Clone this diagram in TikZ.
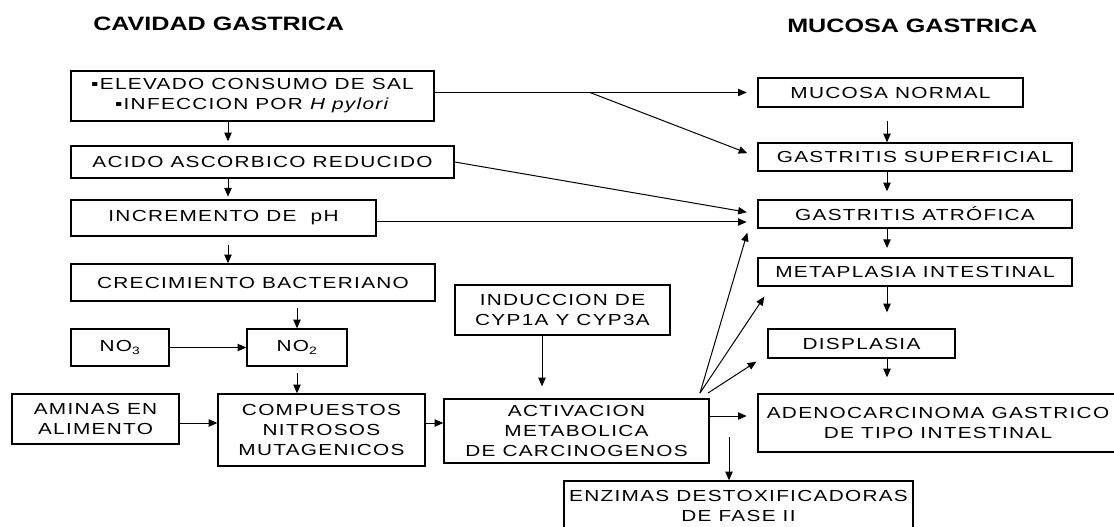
\documentclass[tikz,border=0pt]{standalone}
\usepackage{fontspec}
\setmainfont{Liberation Sans}[FakeStretch=1.3,LetterSpace=8]
\usetikzlibrary{arrows.meta}
\tikzstyle{box}=[draw, line width=1pt, align=center, inner sep=0pt, font=\fontsize{12}{15}\selectfont]
\tikzstyle{title}=[anchor=west, inner sep=0pt, font=\fontsize{14.5}{17}\selectfont\bfseries\addfontfeature{LetterSpace=0}]
\tikzstyle{arrow}=[draw=black, line width=0.75pt, -{Triangle[length=6.5pt,width=5.5pt]}]
\begin{document}
\begin{tikzpicture}[x=0.75pt, y=-0.75pt]
	\useasboundingbox (0,0) rectangle (1114,527);
	\begin{scope}
		% titulos
		\node (tcav) at (93, 24)[title] {CAVIDAD GASTRICA};
		\node (tmuc) at (787, 26)[title] {MUCOSA GASTRICA};
		% cavidad gastrica
		\node (sal) at (252.5, 96)[box, minimum width=272.25pt, minimum height=37.5pt] {
			▪ELEVADO CONSUMO DE SAL\\ ▪INFECCION POR \textit{H pylori}
		};
		\node (acido) at (262.5, 162)[box, minimum width=287.25pt, minimum height=24pt] {ACIDO ASCORBICO REDUCIDO};
		\node (ph) at (223.5, 218)[box, minimum width=228.75pt, minimum height=27pt] {INCREMENTO DE\ \ pH};
		\node (crec) at (253, 282.5)[box, minimum width=273pt, minimum height=27.75pt] {CRECIMIENTO BACTERIANO};
		\node (no3) at (120, 347.5)[box, minimum width=73.5pt, minimum height=27.75pt] {NO\textsubscript{3}};
		\node (no2) at (297, 347.5)[box, minimum width=75pt, minimum height=27.75pt] {NO\textsubscript{2}};
		\node (aminas) at (95.5, 419)[box, minimum width=125.25pt, minimum height=37.5pt] {AMINAS EN\\ ALIMENTO};
		\node (comp) at (321.5, 430)[box, minimum width=155.25pt, minimum height=54pt] {COMPUESTOS\\ NITROSOS\\ MUTAGENICOS};
		\node (induc) at (562.5, 310)[box, minimum width=161.25pt, minimum height=37.5pt] {INDUCCION DE\\ CYP1A Y CYP3A};
		\node (activ) at (576.5, 431)[box, minimum width=198.75pt, minimum height=48pt] {ACTIVACION\\ METABOLICA\\ DE CARCINOGENOS};
		\node (enz) at (738.5, 506)[box, minimum width=261.75pt, minimum height=37.5pt] {ENZIMAS DESTOXIFICADORAS\\ DE FASE II};
		% mucosa gastrica
		\node (mucn) at (890.5, 92.5)[box, minimum width=198.75pt, minimum height=21.75pt] {MUCOSA NORMAL};
		\node (gsup) at (915, 157)[box, minimum width=235.5pt, minimum height=21pt] {GASTRITIS SUPERFICIAL};
		\node (gatr) at (915, 214)[box, minimum width=235.5pt, minimum height=21pt] {GASTRITIS ATRÓFICA};
		\node (meta) at (915, 272)[box, minimum width=235.5pt, minimum height=21pt] {METAPLASIA INTESTINAL};
		\node (disp) at (861.5, 343.5)[box, minimum width=140.25pt, minimum height=21.75pt] {DISPLASIA};
		\node (aden) at (938, 423)[box, minimum width=270pt, minimum height=43.5pt] {ADENOCARCINOMA GASTRICO\\ DE TIPO INTESTINAL};
		% puntos auxiliares
		\coordinate (lc) at (228, 0);
		\coordinate (rc) at (887, 0);
		\coordinate (br) at (590, 92.5);
		\coordinate (py) at (0, 222);
		\coordinate (ay) at (0, 423);
		\coordinate (dy) at (0, 416);
		\coordinate (ix) at (542, 0);
		\coordinate (enzin) at (729, 437);
		\coordinate (fan) at (700, 393);
		\coordinate (fanb) at (708, 393);
	\end{scope}
	\begin{scope}
		\draw [arrow, shorten >=3pt] (sal.south -| lc) -- (acido.north -| lc);
		\draw [arrow, shorten >=2pt] (acido.south -| lc) -- (ph.north -| lc);
		\draw [arrow, shorten <=6pt] (ph.south -| lc) -- (crec.north -| lc);
		\draw [arrow, shorten <=5pt] (crec.south -| no2) -- (no2.north);
		\draw [arrow, shorten <=5pt] (no2.south) -- (comp.north -| no2);
		\draw [arrow] (no3) -- (no2);
		\draw [arrow] (aminas.east |- ay) -- (comp.west |- ay);
		\draw [arrow] (comp.east |- ay) -- (activ.west |- ay);
		\draw [arrow, shorten >=9pt] (induc.south -| ix) -- (activ.north -| ix);
		\draw [arrow, shorten >=8pt] (activ.east |- dy) -- (aden.west |- dy);
		\draw [arrow] (enzin) -- (enz.north -| enzin);
		\draw [arrow, shorten >=8pt] (sal.east |- mucn.west) -- (mucn.west);
		\draw [arrow, shorten >=8pt] (br) -- (gsup.west);
		\draw [arrow, shorten >=8pt] (acido.east) -- (gatr.west);
		\draw [arrow, shorten >=8pt] (ph.east |- py) -- (gatr.west |- py);
		\draw [arrow] (fan) -- ([shift={(-10,4)}]gatr.south west);
		\draw [arrow] (fan) -- ([shift={(7,10)}]meta.south west);
		\draw [arrow] (fanb) -- ([shift={(-11,3)}]disp.south west);
		\draw [arrow, shorten <=10pt] (mucn.south -| rc) -- (gsup.north -| rc);
		\draw [arrow, shorten >=6pt] (gsup.south -| rc) -- (gatr.north -| rc);
		\draw [arrow, shorten >=7pt] (gatr.south -| rc) -- (meta.north -| rc);
		\draw [arrow, shorten >=12pt] (meta.south -| rc) -- (disp.north -| rc);
		\draw [arrow, shorten >=12pt] (disp.south -| rc) -- (aden.north -| rc);
	\end{scope}
\end{tikzpicture}
\end{document}
